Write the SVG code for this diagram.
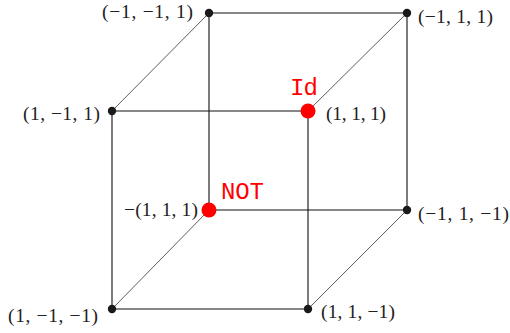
<svg xmlns="http://www.w3.org/2000/svg" width="510" height="333" viewBox="0 0 510 333">
<style>
.edge{stroke:#111;stroke-width:1.1;fill:none}
.diag{stroke:#333;stroke-width:0.8;fill:none}
.dot{fill:#1a1a1a}
.red{fill:#ff0000}
.lbl{font-family:"Liberation Serif","DejaVu Serif",serif;font-size:19.5px;fill:#222}
.mono{font-family:"Liberation Mono","DejaVu Sans Mono",monospace;font-size:24px;fill:#ff0000}
</style>
<rect width="510" height="333" fill="#fff"/>
<g id="connectors">
<path class="edge" d="M112,111H308V309H112Z"/>
<path class="edge" d="M209,13H407V210H209Z"/>
<path class="diag" d="M112,111L209,13M308,111L407,13M308,309L407,210M112,309L209,210"/>
</g>
<g id="n_m1m11"><circle class="dot" cx="209" cy="13" r="4.2"/><text class="lbl" x="102" y="18" textLength="91" lengthAdjust="spacing">(−1, −1, 1)</text></g>
<g id="n_m111"><circle class="dot" cx="407" cy="13" r="4.2"/><text class="lbl" x="418" y="23" textLength="75" lengthAdjust="spacing">(−1, 1, 1)</text></g>
<g id="n_1m11"><circle class="dot" cx="112" cy="111" r="4.2"/><text class="lbl" x="23" y="120" textLength="77" lengthAdjust="spacing">(1, −1, 1)</text></g>
<g id="n_111"><circle class="red" cx="308" cy="111" r="7.5"/><text class="lbl" x="326" y="120" textLength="60" lengthAdjust="spacing">(1, 1, 1)</text><text class="mono" x="290" y="95" textLength="28" lengthAdjust="spacing">Id</text></g>
<g id="n_m1m1m1"><circle class="red" cx="209" cy="210" r="7.5"/><text class="lbl" x="124" y="216" textLength="74" lengthAdjust="spacing">−(1, 1, 1)</text><text class="mono" x="221" y="199" textLength="43" lengthAdjust="spacing">NOT</text></g>
<g id="n_m11m1"><circle class="dot" cx="407" cy="210" r="4.2"/><text class="lbl" x="418" y="220" textLength="91" lengthAdjust="spacing">(−1, 1, −1)</text></g>
<g id="n_1m1m1"><circle class="dot" cx="112" cy="309" r="4.2"/><text class="lbl" x="8" y="322" textLength="90" lengthAdjust="spacing">(1, −1, −1)</text></g>
<g id="n_11m1"><circle class="dot" cx="308" cy="309" r="4.2"/><text class="lbl" x="321" y="318" textLength="74" lengthAdjust="spacing">(1, 1, −1)</text></g>
</svg>
